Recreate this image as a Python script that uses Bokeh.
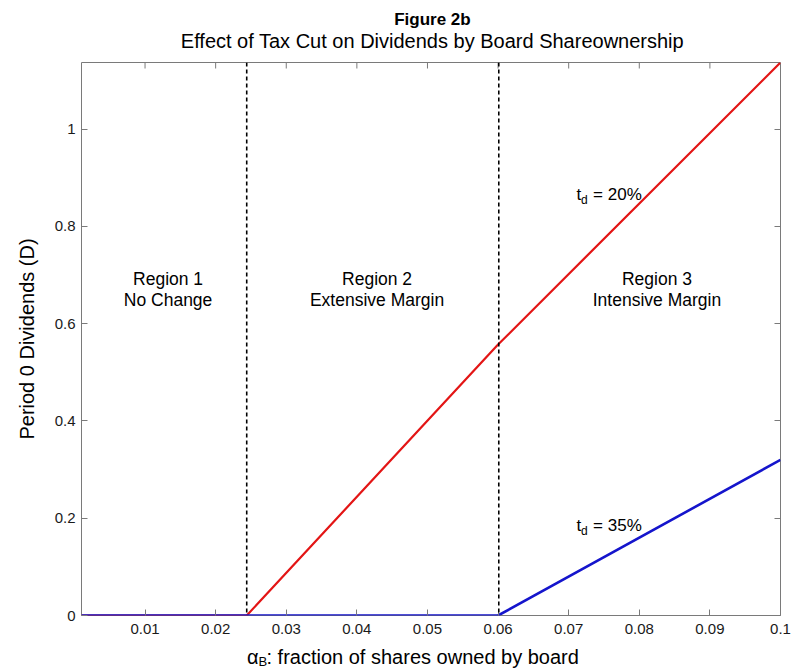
from bokeh.plotting import figure
from bokeh.layouts import column
from bokeh.models import Range1d, FixedTicker, Label, Span, LinearAxis
from bokeh.embed import file_html
from bokeh.resources import INLINE

# ---- data ----
alpha_grid = [0.001, 0.0244, 0.06, 0.1]
div_td20 = [0.0, 0.0, 0.557, 1.137]
div_td35 = [0.0, 0.0, 0.0, 0.32]
region_bounds = [0.0244, 0.0601]
x_ticks = [0.01, 0.02, 0.03, 0.04, 0.05, 0.06, 0.07, 0.08, 0.09, 0.1]
x_tick_labels = ["0.01", "0.02", "0.03", "0.04", "0.05", "0.06", "0.07", "0.08", "0.09", "0.1"]
y_ticks = [0.0, 0.2, 0.4, 0.6, 0.8, 1.0]
y_tick_labels = ["0", "0.2", "0.4", "0.6", "0.8", "1"]
region_names = ["Region 1", "Region 2", "Region 3"]
region_descs = ["No Change", "Extensive Margin", "Intensive Margin"]
region_x = [0.01326, 0.04286, 0.0825]
region_y = [0.692, 0.649]
series_labels = ["20%", "35%"]
series_label_pos = [(0.07176, 0.866), (0.07176, 0.186)]
title_text = "Figure 2b"
subtitle_text = "Effect of Tax Cut on Dividends by Board Shareownership"
y_label = "Period 0 Dividends (D)"
x_label_sym = "α"
x_label_sub = "B"
x_label_rest = ": fraction of shares owned by board"

FONT = "Liberation Sans"
YMAX = 1.137
W = 792
GRAY = "#7a7a7a"

x_range = Range1d(0.001, 0.1)


def text_strip(height):
    f = figure(width=W, height=height, output_backend="svg", toolbar_location=None,
               x_range=x_range, y_range=Range1d(0, height),
               x_axis_type=None, y_axis_type=None,
               min_border_left=81, min_border_right=12, min_border_top=0, min_border_bottom=0,
               background_fill_color="white", border_fill_color="white")
    f.outline_line_color = None
    f.grid.visible = False
    return f


# ---- title strip ----
title_x = 0.0507
top_strip = text_strip(56)
top_strip.add_layout(Label(x=title_x, y=37.5, text=title_text, text_align="center",
                           text_baseline="middle", text_font=FONT, text_font_size="17px",
                           text_font_style="bold", text_color="black"))
top_strip.add_layout(Label(x=title_x, y=15.5, text=subtitle_text, text_align="center",
                           text_baseline="middle", text_font=FONT, text_font_size="20px",
                           text_color="black"))

# ---- main plot ----
p = figure(width=W, height=587, output_backend="svg", toolbar_location=None,
           x_range=x_range, y_range=Range1d(0, YMAX),
           min_border_left=81, min_border_right=12, min_border_top=6, min_border_bottom=28,
           background_fill_color="white", border_fill_color="white")
p.title = None
p.grid.visible = False
p.outline_line_color = GRAY
p.outline_line_width = 1


def style_axis(ax, show_labels=True):
    ax.axis_line_color = None
    ax.major_tick_in = 6
    ax.major_tick_out = 0
    ax.minor_tick_line_color = None
    ax.major_tick_line_color = GRAY
    ax.major_label_text_font = FONT
    ax.major_label_text_font_size = "15px" if show_labels else "0px"
    ax.major_label_text_color = "#1a1a1a" if show_labels else None
    if not show_labels:
        ax.major_label_standoff = 0


xa = p.xaxis[0]
xa.ticker = FixedTicker(ticks=x_ticks)
xa.major_label_overrides = dict(zip(x_ticks, x_tick_labels))
style_axis(xa)
xa.major_label_standoff = 8

ya = p.yaxis[0]
ya.ticker = FixedTicker(ticks=y_ticks)
ya.major_label_overrides = dict(zip(y_ticks, y_tick_labels))
style_axis(ya)
ya.major_label_standoff = 6
ya.axis_label = y_label
ya.axis_label_text_font = FONT
ya.axis_label_text_font_size = "20px"
ya.axis_label_text_font_style = "normal"
ya.axis_label_text_color = "black"
ya.axis_label_standoff = 14

right = LinearAxis(ticker=FixedTicker(ticks=y_ticks), major_label_overrides={t: "" for t in y_ticks})
style_axis(right, False)
p.add_layout(right, "right")

# top-edge tick marks (box style), at the x tick positions
tick_len = 6 * YMAX / 553
p.segment(x0=x_ticks, y0=[YMAX] * len(x_ticks), x1=x_ticks, y1=[YMAX - tick_len] * len(x_ticks),
          line_color=GRAY, line_width=1)

# lines
p.line(alpha_grid, div_td20, line_color="#e31515", line_width=2.2)
p.line(alpha_grid, div_td35, line_color="#1515cc", line_width=2.6)

for b in region_bounds:
    p.add_layout(Span(location=b, dimension="height", line_color="black", line_width=1.6,
                      line_dash="4 3"))

# region texts
for name, desc, x in zip(region_names, region_descs, region_x):
    p.add_layout(Label(x=x, y=region_y[0], text=name, text_align="center", text_baseline="middle",
                       text_font=FONT, text_font_size="17.5px", text_color="black"))
    p.add_layout(Label(x=x, y=region_y[1], text=desc, text_align="center", text_baseline="middle",
                       text_font=FONT, text_font_size="17.5px", text_color="black"))

# t_d labels
for lab, (x, y) in zip(series_labels, series_label_pos):
    p.add_layout(Label(x=x, y=y, text="t", text_align="right", text_baseline="middle",
                       text_font=FONT, text_font_size="17px", text_color="black"))
    p.add_layout(Label(x=x, y=y, y_offset=-6, text="d", text_align="left", text_baseline="middle",
                       text_font=FONT, text_font_size="12px", text_color="black"))
    p.add_layout(Label(x=x, x_offset=12, y=y, text="= " + lab, text_align="left",
                       text_baseline="middle", text_font=FONT, text_font_size="17px",
                       text_color="black"))

# ---- x-axis label strip ----
xl_x = 0.0272
bot_strip = text_strip(27)
bot_strip.add_layout(Label(x=xl_x, x_offset=-8, y=14, text=x_label_sym, text_align="right",
                           text_baseline="middle", text_font=FONT, text_font_size="20px",
                           text_color="black"))
bot_strip.add_layout(Label(x=xl_x, x_offset=-8, y=9, text=x_label_sub, text_align="left",
                           text_baseline="middle", text_font=FONT, text_font_size="13px",
                           text_color="black"))
bot_strip.add_layout(Label(x=xl_x, y=14, text=x_label_rest, text_align="left",
                           text_baseline="middle", text_font=FONT, text_font_size="20px",
                           text_color="black"))

layout = column(top_strip, p, bot_strip, spacing=0)
open("out.html", "w").write(file_html(layout, INLINE))
